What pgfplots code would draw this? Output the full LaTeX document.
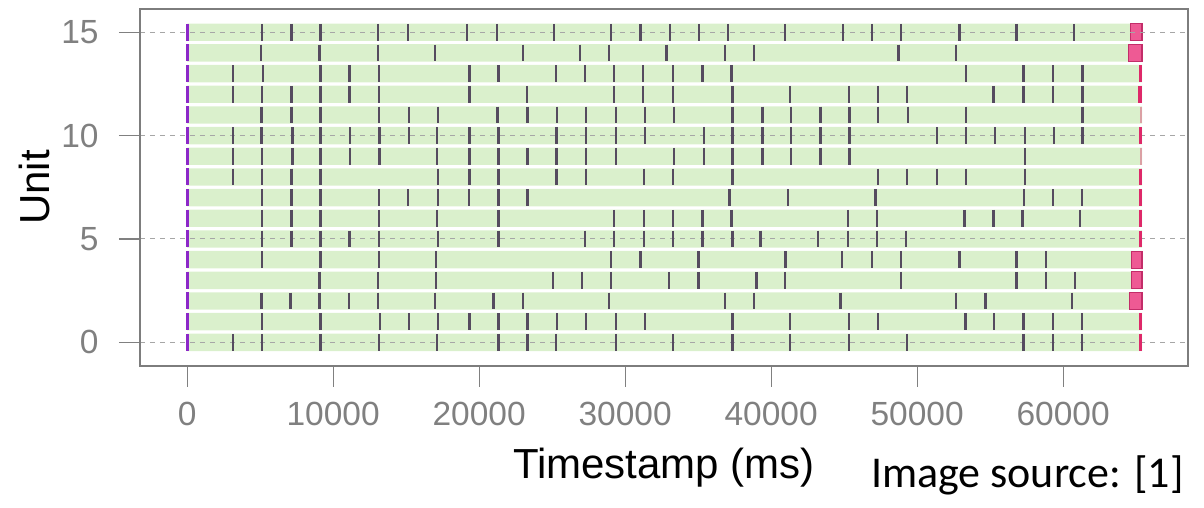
\documentclass[border=0pt]{standalone}
\usepackage{pgfplots}
\pgfplotsset{compat=1.18}
\usepackage{fontspec}
\setmainfont{Liberation Sans}
\newfontfamily\calibri{Carlito}
\definecolor{bargreen}{RGB}{218,240,204}
\definecolor{tickc}{RGB}{85,75,95}
\definecolor{startc}{RGB}{140,40,200}
\definecolor{endc}{RGB}{222,40,105}
\definecolor{pinkf}{RGB}{238,90,148}
\definecolor{pinkd}{RGB}{195,45,105}
\definecolor{framec}{RGB}{125,125,125}
\definecolor{labc}{RGB}{128,128,128}
\begin{document}
\begin{tikzpicture}
\path[use as bounding box] (-70pt,-71.15pt) rectangle (532pt,182.85pt);
\begin{axis}[
  at={(0,0)}, anchor=south west,
  scale only axis, width=524pt, height=178.2pt,
  xmin=-3230, xmax=68550, ymin=-1.13, ymax=16.11,
  xtick={0,10000,20000,30000,40000,50000,60000}, ytick={0,5,10,15},
  scaled x ticks=false,
  /pgf/number format/1000 sep={},
  /pgf/number format/assume math mode=true,
  tick align=outside, major tick length=10.5pt,
  tick style={labc, line width=0.6pt},
  tick pos=left,
  axis line style={framec, line width=1.2pt},
  ymajorgrids, major grid style={dash pattern=on 2.5pt off 2.5pt, color=gray!70, line width=0.5pt},
  axis on top,
  ticklabel style={font=\fontsize{16.75}{20}\selectfont, text=labc},
  xticklabel style={anchor=north, inner sep=0pt, yshift=-7.65pt},
  yticklabel style={anchor=east, inner sep=0pt, xshift=-10pt},
  xlabel={Timestamp (ms)}, ylabel={Unit},
  label style={font=\fontsize{21}{25}\selectfont},
  xlabel style={at={(axis description cs:0.5,-0.3151)}, anchor=base},
  ylabel style={at={(axis description cs:-0.0859,0.5)}, anchor=base},
]
% green rows
\addplot[xbar, bar width=0.84, bar shift=0pt, fill=bargreen, draw=none] coordinates {
(65400,0) (65400,1) (65400,2) (65400,3) (65400,4) (65400,5) (65400,6) (65400,7)
(65400,8) (65400,9) (65400,10) (65400,11) (65400,12) (65400,13) (65400,14) (65400,15)};
% pink end blocks
\addplot[fill=pinkf, draw=pinkd, line width=0.6pt] coordinates {(64630,14.59) (65400,14.59) (65400,15.41) (64630,15.41)} --cycle;
\addplot[fill=pinkf, draw=pinkd, line width=0.6pt] coordinates {(64465,13.59) (65400,13.59) (65400,14.41) (64465,14.41)} --cycle;
\addplot[fill=pinkf, draw=pinkd, line width=0.6pt] coordinates {(64698,3.59) (65400,3.59) (65400,4.41) (64698,4.41)} --cycle;
\addplot[fill=pinkf, draw=pinkd, line width=0.6pt] coordinates {(64698,2.59) (65400,2.59) (65400,3.41) (64698,3.41)} --cycle;
\addplot[fill=pinkf, draw=pinkd, line width=0.6pt] coordinates {(64516,1.59) (65400,1.59) (65400,2.41) (64516,2.41)} --cycle;
% event ticks
\pgfplotsset{ev/.style={only marks, mark=|, mark size=4.2pt, mark options={tickc, line width=1.2pt}}}
\addplot[ev] coordinates {(5130,15) (7136,15) (9143,15) (13064,15) (15116,15) (19175,15) (21204,15) (25121,15) (29019,15) (31049,15) (33055,15) (35039,15) (37045,15) (40966,15) (44911,15) (46895,15) (48901,15) (52888,15) (56810,15) (60754,15)};
\addplot[ev] coordinates {(5062,14) (9074,14) (13064,14) (16986,14) (22982,14) (26899,14) (28905,14) (32827,14) (36840,14) (38823,14) (48719,14) (52663,14)};
\addplot[ev] coordinates {(3146,13) (5176,13) (9143,13) (11126,13) (13133,13) (19334,13) (21318,13) (25257,13) (27241,13) (29225,13) (31231,13) (33283,13) (35290,13) (37296,13) (53344,13) (57288,13) (59318,13) (61324,13)};
\addplot[ev] coordinates {(3146,12) (5130,12) (7136,12) (9143,12) (11126,12) (13133,12) (19334,12) (23256,12) (29225,12) (31231,12) (33283,12) (37341,12) (41309,12) (45321,12) (47305,12) (49311,12) (55236,12) (57288,12) (59318,12) (61324,12)};
\addplot[ev] coordinates {(5084,11) (7136,11) (9143,11) (13133,11) (15185,11) (17168,11) (21250,11) (23324,11) (25349,11) (27309,11) (29361,11) (31345,11) (33329,11) (37341,11) (39393,11) (41377,11) (43383,11) (45367,11) (47305,11) (49357,11) (53344,11) (61324,11)};
\addplot[ev] coordinates {(3146,10) (5084,10) (7205,10) (9143,10) (11172,10) (13178,10) (15185,10) (17100,10) (19334,10) (21318,10) (25303,10) (27309,10) (29361,10) (31345,10) (35403,10) (37341,10) (39393,10) (41377,10) (43383,10) (45367,10) (51363,10) (53344,10) (55350,10) (57380,10) (59386,10) (61324,10)};
\addplot[ev] coordinates {(3146,9) (5130,9) (7205,9) (9143,9) (11172,9) (13178,9) (17100,9) (19334,9) (21318,9) (23324,9) (25303,9) (27309,9) (29361,9) (33329,9) (35403,9) (37341,9) (39393,9) (41377,9) (43383,9) (45367,9) (57380,9)};
\addplot[ev] coordinates {(3146,8) (5130,8) (7136,8) (9143,8) (17168,8) (19334,8) (21318,8) (25303,8) (27309,8) (31277,8) (33283,8) (37341,8) (47305,8) (49311,8) (51363,8) (53344,8) (57380,8)};
\addplot[ev] coordinates {(5130,7) (7136,7) (9143,7) (13133,7) (15116,7) (17168,7) (19289,7) (21318,7) (23324,7) (37159,7) (41172,7) (47145,7) (57334,7) (59318,7) (61278,7)};
\addplot[ev] coordinates {(5130,6) (7136,6) (9143,6) (13133,6) (17100,6) (21318,6) (29225,6) (31277,6) (33283,6) (35290,6) (37296,6) (45253,6) (47259,6) (53230,6) (55236,6) (57220,6) (61164,6)};
\addplot[ev] coordinates {(5130,5) (7136,5) (9143,5) (11126,5) (13133,5) (17168,5) (21318,5) (27241,5) (29225,5) (31277,5) (33283,5) (35290,5) (37341,5) (39279,5) (43224,5) (45253,5) (47259,5) (49243,5)};
\addplot[ev] coordinates {(5130,4) (9143,4) (13133,4) (17054,4) (29019,4) (31049,4) (35016,4) (40989,4) (44865,4) (46895,4) (48901,4) (52888,4) (56810,4) (58816,4)};
\addplot[ev] coordinates {(9074,3) (13064,3) (17054,3) (25075,3) (27036,3) (29019,3) (32987,3) (35016,3) (38983,3) (40966,3) (48901,3) (56810,3) (58816,3) (60800,3)};
\addplot[ev] coordinates {(5084,2) (7068,2) (9074,2) (11081,2) (13064,2) (16986,2) (20976,2) (22982,2) (28905,2) (36840,2) (38823,2) (44751,2) (52663,2) (54666,2) (60594,2)};
\addplot[ev] coordinates {(5130,1) (9143,1) (13224,1) (15185,1) (17168,1) (19334,1) (21318,1) (23324,1) (25349,1) (27309,1) (29361,1) (31345,1) (37341,1) (41309,1) (45321,1) (47305,1) (53298,1) (55282,1) (57288,1) (59318,1) (61278,1)};
\addplot[ev] coordinates {(3146,0) (5130,0) (9143,0) (13133,0) (17100,0) (21318,0) (23324,0) (25257,0) (29361,0) (33283,0) (37341,0) (41309,0) (45321,0) (49311,0) (57288,0) (59318,0) (61278,0)};
% start marks
\addplot[only marks, mark=|, mark size=4.25pt, mark options={startc, line width=1.4pt}] coordinates {
(0,0) (0,1) (0,2) (0,3) (0,4) (0,5) (0,6) (0,7) (0,8) (0,9) (0,10) (0,11) (0,12) (0,13) (0,14) (0,15)};
% end marks
\addplot[only marks, mark=|, mark size=4.2pt, mark options={endc, line width=1.2pt}] coordinates {
(65300,13) (65300,10) (65300,8) (65300,7) (65300,6) (65300,5) (65300,1) (65300,0)};
\addplot[only marks, mark=|, mark size=4.2pt, mark options={endc, line width=1.8pt}] coordinates {(65280,12)};
\addplot[only marks, mark=|, mark size=4.2pt, mark options={endc, line width=1pt, opacity=0.4}] coordinates {(65320,11) (65320,9)};
\end{axis}
\node[anchor=base west, font=\calibri\fontsize{22}{26}\selectfont] at (362pt,-61.15pt) {Image source: [1]};
\end{tikzpicture}
\end{document}
